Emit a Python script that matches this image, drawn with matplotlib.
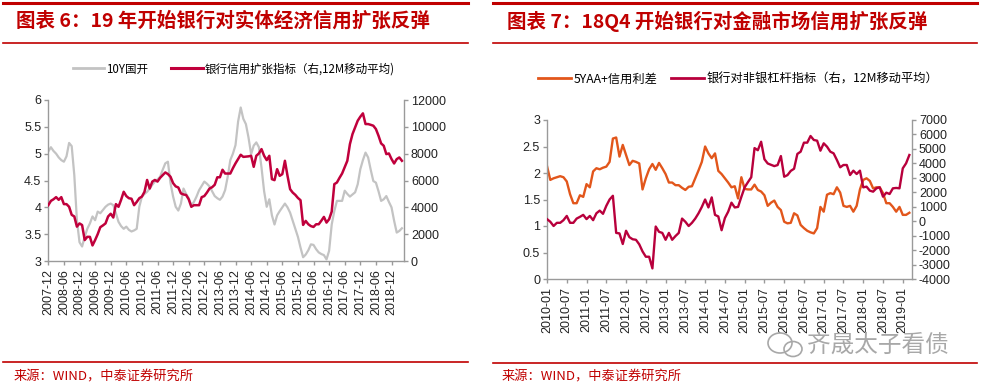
import matplotlib
matplotlib.use('Agg')
import matplotlib.pyplot as plt
import pandas as pd
from matplotlib.lines import Line2D
from matplotlib.patches import Ellipse

plt.rcParams['font.family'] = ['Liberation Sans', 'Noto Sans CJK SC', 'DejaVu Sans']
CJK = ['Noto Sans CJK SC', 'DejaVu Sans']

# ---------------- Chart 6 data (monthly, from 2007-12) ----------------
c6_start = '2007-12'
c6_gray_10y = [
    5.04, 5.12, 5.05, 5.00, 4.93, 4.88, 4.85, 4.95, 5.20, 5.14,
    4.60, 3.76, 3.35, 3.27, 3.45, 3.60, 3.70, 3.83, 3.76, 3.92,
    3.89, 3.95, 4.01, 4.05, 4.07, 4.04, 3.89, 3.73, 3.65, 3.60,
    3.64, 3.58, 3.55, 3.57, 3.60, 4.01, 4.20, 4.25, 4.29, 4.35,
    4.42, 4.48, 4.52, 4.57, 4.70, 4.82, 4.85, 4.45, 4.20, 4.01,
    3.94, 4.07, 4.35, 4.25, 4.17, 4.04, 4.10, 4.20, 4.32, 4.40,
    4.48, 4.44, 4.39, 4.30, 4.21, 4.17, 4.14, 4.20, 4.32, 4.57,
    4.88, 5.00, 5.16, 5.60, 5.86, 5.65, 5.55, 5.30, 4.99, 5.15,
    5.21, 5.12, 4.74, 4.30, 4.01, 4.15, 3.85, 3.68, 3.85, 3.93,
    4.00, 4.07, 4.00, 3.90, 3.75, 3.60, 3.45, 3.25, 3.07, 3.12,
    3.20, 3.31, 3.30, 3.22, 3.16, 3.13, 3.11, 3.03, 3.19, 3.68,
    3.93, 4.12, 4.12, 4.12, 4.31, 4.25, 4.20, 4.24, 4.28, 4.43,
    4.71, 4.88, 5.02, 4.93, 4.70, 4.49, 4.46, 4.30, 4.12, 4.15,
    4.21, 4.10, 4.00, 3.75, 3.53, 3.56, 3.61,
]
c6_red_credit = [
    4160, 4480, 4600, 4760, 4560, 4760, 4240, 4240, 4040, 3440,
    3320, 2560, 2800, 2680, 1560, 1800, 1800, 1160, 1560, 2000,
    2520, 2650, 2800, 3320, 3520, 3240, 4240, 4040, 4560, 5160,
    4840, 4680, 4640, 4160, 4400, 4680, 4800, 5160, 6040, 5400,
    5920, 6040, 5920, 6200, 6400, 6600, 6480, 6280, 5800, 5560,
    5480, 5040, 4960, 4920, 4600, 4040, 4160, 4160, 4160, 4760,
    4840, 5100, 5400, 5500, 5680, 6240, 6240, 6800, 6520, 6520,
    6520, 6920, 7280, 7600, 7920, 7760, 7780, 7800, 7842, 7020,
    7842, 8016, 8340, 7842, 7519, 7842, 6100, 6025, 6846, 6349,
    6473, 7469, 6349, 5353, 5100, 4929, 4700, 4531, 2689, 2988,
    2739, 2600, 2539, 2739, 2739, 3000, 3286, 2863, 3112, 3685,
    5726, 5851, 6200, 6523, 7000, 7469, 8714, 9461, 9959, 10456,
    10755, 11004, 10207, 10207, 10150, 10083, 9834, 9336, 8763, 8589,
    7967, 8016, 7600, 7269, 7593, 7718, 7469,
]
c6_tick_labels = ['2007-12', '2008-06', '2008-12', '2009-06', '2009-12', '2010-06',
                  '2010-12', '2011-06', '2011-12', '2012-06', '2012-12', '2013-06',
                  '2013-12', '2014-06', '2014-12', '2015-06', '2015-12', '2016-06',
                  '2016-12', '2017-06', '2017-12', '2018-06', '2018-12']
c6_left_ticks = [3, 3.5, 4, 4.5, 5, 5.5, 6]
c6_right_ticks = [0, 2000, 4000, 6000, 8000, 10000, 12000]
c6_title = '图表 6：19 年开始银行对实体经济信用扩张反弹'
c6_legend = ['10Y国开', '银行信用扩张指标（右,12M移动平均)']

# ---------------- Chart 7 data (monthly, from 2010-01) ----------------
c7_start = '2010-01'
c7_orange_spread = [
    2.13, 1.87, 1.90, 1.92, 1.94, 1.92, 1.84, 1.60, 1.43, 1.43,
    1.58, 1.55, 1.79, 1.73, 2.03, 2.09, 2.07, 2.10, 2.12, 2.21,
    2.65, 2.67, 2.31, 2.53, 2.34, 2.15, 2.23, 2.21, 2.18, 1.69,
    1.90, 2.07, 2.17, 2.06, 2.19, 2.09, 1.98, 1.82, 1.82, 1.77,
    1.77, 1.72, 1.68, 1.74, 1.75, 1.90, 2.05, 2.21, 2.50, 2.37,
    2.28, 2.37, 2.04, 1.98, 1.90, 1.82, 1.73, 1.75, 1.52, 1.92,
    1.70, 1.69, 1.69, 1.78, 1.68, 1.65, 1.58, 1.38, 1.44, 1.48,
    1.36, 1.30, 1.08, 1.05, 1.06, 1.24, 1.20, 1.02, 0.96, 0.91,
    0.88, 0.86, 0.96, 1.36, 1.27, 1.59, 1.62, 1.60, 1.73, 1.63,
    1.38, 1.36, 1.38, 1.27, 1.38, 1.69, 1.87, 1.90, 1.85, 1.71,
    1.73, 1.73, 1.62, 1.43, 1.43, 1.36, 1.27, 1.36, 1.21, 1.21, 1.25,
]
c7_red_leverage = [
    143, -40, -333, -113, -113, 70, 363, -113, -113, 180,
    300, 437, 143, 363, 70, 547, 730, 510, 1060, 1500,
    1757, -810, -847, -1580, -663, -1103, -1250, -1287, -1600, -2093,
    -2460, -2460, -3267, -370, -737, -810, -1287, -810, -1287, -1030,
    -810, 180, -40, -333, -113, 180, 547, 987, 1500, 950,
    1647, 437, 327, -627, 217, 657, 1280, 950, 987, 1683,
    2343, 2700, 3040, 5057, 4910, 5497, 4287, 3993, 3900, 3810,
    3883, 4507, 3077, 3187, 3480, 3627, 4653, 4809, 5432, 5432,
    5893, 5617, 5570, 4878, 5386, 5155, 4809, 4694, 4233, 3726,
    3887, 3887, 3195, 3495, 3264, 3495, 2342, 2388, 2111, 2042,
    2273, 2342, 1696, 1973, 1881, 2273, 2300, 2273, 3656, 4002, 4579,
]
c7_tick_labels = ['2010-01', '2010-07', '2011-01', '2011-07', '2012-01', '2012-07',
                  '2013-01', '2013-07', '2014-01', '2014-07', '2015-01', '2015-07',
                  '2016-01', '2016-07', '2017-01', '2017-07', '2018-01', '2018-07',
                  '2019-01']
c7_left_ticks = [0, 0.5, 1, 1.5, 2, 2.5, 3]
c7_right_ticks = [-4000, -3000, -2000, -1000, 0, 1000, 2000, 3000, 4000, 5000, 6000, 7000]
c7_title = '图表 7：18Q4 开始银行对金融市场信用扩张反弹'
c7_legend = ['5YAA+信用利差', '银行对非银杠杆指标（右，12M移动平均）']

source_text = '来源：WIND，中泰证券研究所'
watermark = '齐晟太子看债'

# ---------------- styling ----------------
W, H = 981, 388
DARK_RED = '#C00000'
GRAY_LINE = '#C3C3C3'
RED6 = '#C0003C'
ORANGE7 = '#E2561B'
RED7 = '#B8003C'
SPINE = '#9A9A9A'
TXT = '#222222'

fig = plt.figure(figsize=(W / 100, H / 100), dpi=100)


def fx(px):
    return px / W


def fy(py):
    return 1 - py / H


def px_axes(x0, y0, x1, y1):
    return fig.add_axes([fx(x0), fy(y1), (x1 - x0) / W, (y1 - y0) / H])


def month_index(labels, start):
    s = pd.Period(start, freq='M')
    return [(pd.Period(l, freq='M') - s).n for l in labels]


def style_axes(ax, ax2):
    for s in ['top', 'right']:
        ax.spines[s].set_visible(False)
    for s in ['top', 'left', 'bottom']:
        ax2.spines[s].set_visible(False)
    for a in (ax, ax2):
        for s in a.spines.values():
            s.set_color(SPINE)
            s.set_linewidth(1.0)
        a.tick_params(axis='both', direction='out', length=3, width=1,
                      color=SPINE, labelsize=9, labelcolor=TXT, pad=2)
    ax.tick_params(axis='x', pad=3)


def draw_chart(ax_box, start, left_series, right_series, left_color, right_color,
               left_lw, right_lw, tick_labels, lticks, rticks):
    ax = px_axes(*ax_box)
    ax2 = ax.twinx()
    n = len(left_series)
    xs = list(range(n))
    ax.plot(xs, left_series, color=left_color, lw=left_lw, solid_joinstyle='round')
    ax2.plot(list(range(len(right_series))), right_series, color=right_color,
             lw=right_lw, solid_joinstyle='round')
    ax.set_xlim(0, n - 0.2)
    ax.set_ylim(lticks[0], lticks[-1])
    ax2.set_ylim(rticks[0], rticks[-1])
    ax.set_yticks(lticks)
    ax.set_yticklabels([f'{v:g}' for v in lticks])
    ax2.set_yticks(rticks)
    ax2.set_yticklabels([str(int(v)) for v in rticks])
    ax.set_xticks(month_index(tick_labels, start))
    ax.set_xticklabels(tick_labels, rotation=90, va='top', ha='center')
    style_axes(ax, ax2)
    return ax, ax2


# Chart 6
draw_chart((48.3, 100, 404, 261), c6_start, c6_gray_10y, c6_red_credit,
           GRAY_LINE, RED6, 1.6, 1.8, c6_tick_labels, c6_left_ticks, c6_right_ticks)
# Chart 7
draw_chart((547, 120, 912, 279), c7_start, c7_orange_spread, c7_red_leverage,
           ORANGE7, RED7, 1.7, 1.7, c7_tick_labels, c7_left_ticks, c7_right_ticks)

# Legends
h6 = [Line2D([], [], color=GRAY_LINE, lw=2), Line2D([], [], color=RED6, lw=2.2)]
fig.legend(h6, c6_legend, loc='center left', bbox_to_anchor=(fx(73), fy(69)),
           frameon=False, ncol=2, borderpad=0, borderaxespad=0,
           handlelength=2.7, handletextpad=0.2, columnspacing=2.0,
           prop=dict(family=CJK, size=8.3))
h7 = [Line2D([], [], color=ORANGE7, lw=2), Line2D([], [], color=RED7, lw=2)]
fig.legend(h7, c7_legend, loc='center left', bbox_to_anchor=(fx(538), fy(79)),
           frameon=False, ncol=2, borderpad=0, borderaxespad=0,
           handlelength=2.7, handletextpad=0.2, columnspacing=1.1,
           prop=dict(family=CJK, size=8.8))

# Title bars and separator lines
for (x0, x1) in [(3, 468), (493, 977)]:
    fig.add_artist(Line2D([fx(x0), fx(x1)], [fy(3), fy(3)], color=DARK_RED, lw=2.2,
                          transform=fig.transFigure))
    fig.add_artist(Line2D([fx(x0), fx(x1)], [fy(43), fy(43)], color=DARK_RED, lw=1.2,
                          transform=fig.transFigure))
fig.add_artist(Line2D([fx(3), fx(468)], [fy(362), fy(362)], color=DARK_RED, lw=1.2,
                      transform=fig.transFigure))
fig.add_artist(Line2D([fx(493), fx(977)], [fy(363), fy(363)], color=DARK_RED, lw=1.2,
                      transform=fig.transFigure))

fig.text(fx(16), fy(21), c6_title, family=CJK, fontsize=14, fontweight='bold',
         color=DARK_RED, ha='left', va='center')
fig.text(fx(507), fy(21), c7_title, family=CJK, fontsize=14, fontweight='bold',
         color=DARK_RED, ha='left', va='center')

fig.text(fx(14), fy(377), source_text, family=CJK, fontsize=9.5, color=DARK_RED,
         ha='left', va='center')
fig.text(fx(502), fy(377), source_text, family=CJK, fontsize=9.5, color=DARK_RED,
         ha='left', va='center')

# Watermark
fig.add_artist(Ellipse((fx(780), fy(343)), 24 / W, 20 / H, transform=fig.transFigure,
                       fill=False, ec='#A8A8A8', lw=1.2))
fig.add_artist(Ellipse((fx(793), fy(349)), 18 / W, 15 / H, transform=fig.transFigure,
                       fill=False, ec='#A8A8A8', lw=1.2))
fig.text(fx(807), fy(345), watermark, family=CJK, fontsize=17, color='#A8A8A8',
         ha='left', va='center')

fig.savefig('out.png', dpi=100)
